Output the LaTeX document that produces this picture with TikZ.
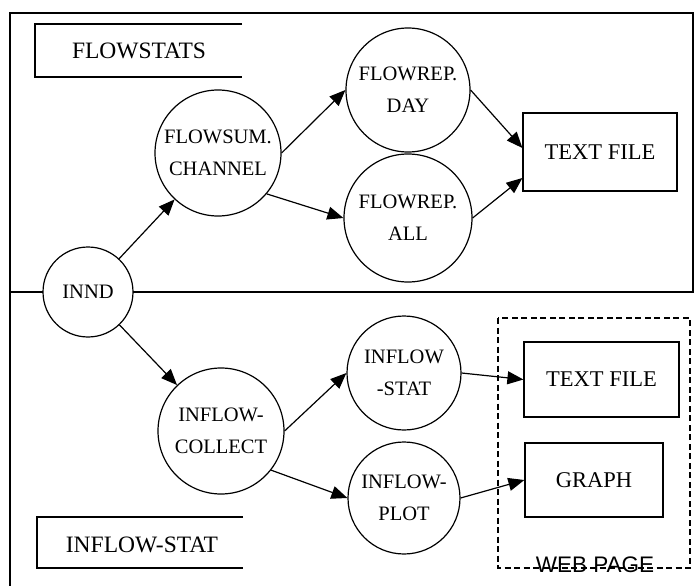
\documentclass[tikz,border=0pt]{standalone}
\usepackage{fontspec}
\setmainfont{Liberation Serif}
\setsansfont{Liberation Sans}
\usetikzlibrary{arrows.meta}
\begin{document}
\begin{tikzpicture}[x=1pt,y=-1pt,
  every path/.style={line width=1.2pt},
  proc/.style={circle,draw,fill=white,inner sep=0pt,align=center,
    font=\fontsize{20.5}{32}\selectfont},
  filebox/.style={rectangle,draw,fill=white,inner sep=0pt,
    font=\fontsize{22.5}{26}\selectfont},
  storelabel/.style={inner sep=0pt,font=\fontsize{23.5}{26}\selectfont},
  flow/.style={-{Triangle[length=16pt,width=13pt]}}
]
\useasboundingbox (0,0) rectangle (694,586);
% outer frame
\draw (10,586) -- (10,13) -- (693,13) -- (693,292);
\draw (10,292) -- (694,292);
% data stores (open on the right)
\draw (242,24) -- (35,24) -- (35,77) -- (242,77);
\node[storelabel] (flowstats) at (139,51) {FLOWSTATS};
\draw (243,517) -- (37,517) -- (37,568) -- (243,568);
\node[storelabel] (inflowstat) at (142,545) {INFLOW-STAT};
% web page group
\draw[dashed,dash pattern=on 6pt off 3.5pt] (498,318) rectangle (690,568);
\node[inner sep=0pt,font=\sffamily\fontsize{22.5}{24}\selectfont] (webpage) at (595,565) {WEB PAGE};
% processes
\node[proc,minimum size=90pt] (innd) at (88,292) {INND};
\node[proc,minimum size=126pt] (fsum) at (218,153) {FLOWSUM.\\CHANNEL};
\node[proc,minimum size=124pt] (day) at (408,90) {FLOWREP.\\DAY};
\node[proc,minimum size=128pt] (all) at (408,218) {FLOWREP.\\ALL};
\node[proc,minimum size=126pt] (collect) at (221,431) {INFLOW-\\COLLECT};
\node[proc,minimum size=114pt] (istat) at (404,373) {INFLOW\\-STAT};
\node[proc,minimum size=112pt] (iplot) at (404,498) {INFLOW-\\PLOT};
% outputs
\node[filebox,minimum width=154pt,minimum height=78pt] (tf1) at (600,152) {TEXT FILE};
\node[filebox,minimum width=155pt,minimum height=75pt] (tf2) at (601.5,379.5) {TEXT FILE};
\node[filebox,minimum width=138pt,minimum height=74pt] (graph) at (594,480) {GRAPH};
% flows
\draw[flow] (innd) -- (fsum);
\draw[flow] (innd) -- (collect);
\draw[flow] (fsum.east) -- (day.west);
\draw[flow] (fsum.-40) -- (all.west);
\draw[flow] (day.east) -- ([yshift=4pt]tf1.west);
\draw[flow] (all.east) -- ([yshift=-26pt]tf1.west);
\draw[flow] (collect.east) -- (istat.west);
\draw[flow] (collect.-38) -- (iplot.west);
\draw[flow] (istat.east) -- (tf2.west);
\draw[flow] (iplot.east) -- (graph.west);
\end{tikzpicture}
\end{document}
